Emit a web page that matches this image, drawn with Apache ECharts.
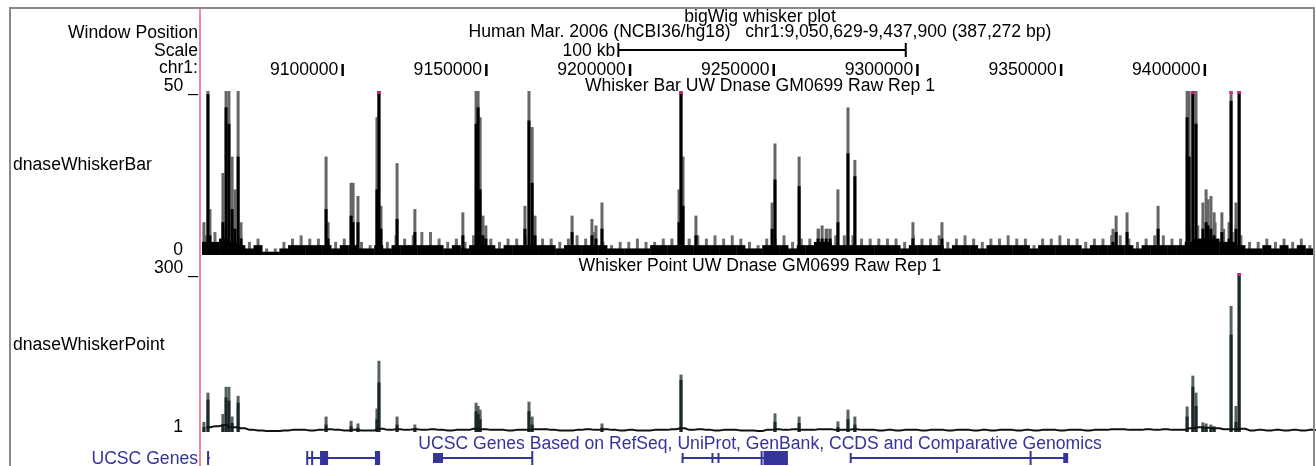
<!DOCTYPE html>
<html><head><meta charset="utf-8">
<script src="https://cdn.jsdelivr.net/npm/echarts@6/dist/echarts.min.js"></script>
<style>html,body{margin:0;padding:0;background:#fff}#c{width:1316px;height:466px}</style>
</head><body><div id="c"></div>
<script>
// ---------- data ----------
const X_MIN = 9050629, X_MAX = 9437900;
const RULER_TICKS = [9100000, 9150000, 9200000, 9250000, 9300000, 9350000, 9400000];
const SCALE_BAR = [9195500, 9295500];

// background bins (3 kb bins starting at X_MIN)
const BG_START = 9050629, BG_STEP = 3000;
const topBgMax = [6,7,8,7,6, 4,5,2,2,4, 5,6,5,5,6, 4,5,6,4,3, 6,4,6,5,6, 7,7,5,4,5, 4,6,6,5,4, 5,5,6,6,5, 5,4,5,6,5, 7,4,3,4,4, 5,4,4,5,5, 6,5,6,5,6, 5,6,5,4,3, 5,5,6,4,5, 5,8,8,6,6, 6,5,5,5,5, 5,4,6,5,5, 6,4,5,6,5, 4,5,5,6,5, 5,3,5,5,6, 5,5,4,5,5, 6,6,5,4,5, 6,6,5,5,8, 9,10,10,8,7, 6,4,4,5,4, 5,4,5,3,4];
const topBgMean = [4,4,5,4,3, 2,3,1,1,2, 3,3,3,3,3, 2,3,3,2,2, 3,2,3,3,3, 3,3,3,2,3, 2,3,3,3,2, 3,3,3,3,3, 3,2,3,3,3, 3,3,2,2,2, 2,2,3,3,3, 3,3,3,3,3, 3,3,3,2,2, 3,3,3,2,3, 3,4,4,3,3, 3,3,3,3,3, 3,2,3,3,3, 3,2,3,3,3, 2,3,3,3,3, 3,2,3,3,3, 3,3,2,3,3, 3,3,3,2,3, 3,3,3,3,4, 5,5,5,4,4, 3,2,2,3,2, 3,2,3,2,2];
const botBg = [10,12,14,10,8, 5,4,3,3,4, 5,5,4,5,6, 5,4,5,4,4, 7,5,6,5,6, 5,6,5,4,5, 5,7,6,5,5, 4,5,5,6,6, 5,4,4,5,6, 5,6,5,4,5, 4,4,5,5,6, 8,5,6,5,4, 5,5,4,4,3, 5,6,5,6,5, 5,6,6,5,5, 6,5,5,4,5, 4,5,5,4,5, 5,4,5,5,4, 5,4,5,5,4, 5,4,5,5,4, 5,5,4,5,5, 6,6,5,5,6, 5,6,5,5,8, 10,9,8,6,6, 7,4,5,4,5, 4,5,4,5,4];

// peaks, top track (Whisker Bar): position, max, mean
const topPeakPos = [9051300,9052700,9053400,9057900,9059000,9060000,9061100,9062100,9063200,9064200,9093800,9094500,9102500,9103200,9104900,9111500,9112200,9112900,9118500,9124700,9141400,9146000,9146700,9147400,9148400,9149400,9163000,9164400,9165500,9166500,9179400,9186300,9187700,9189800,9216600,9217300,9218000,9222500,9249000,9250000,9258400,9265000,9266400,9267800,9269200,9271900,9275400,9277800,9298000,9308100,9367600,9368700,9372500,9383300,9393400,9394100,9395400,9396500,9398900,9400000,9400700,9401700,9402800,9405500,9408000,9408700,9410400,9411500];
const topPeakMax = [10,50,14,25,50,50,30,20,50,10,30,10,22,22,18,42,60,15,28,14,13,50,50,42,12,9,15,50,39,12,12,11,9,16,20,60,30,12,16,34,30,8,9,8,8,20,45,29,10,10,8,12,13,15,50,50,60,50,16,20,17,18,13,13,10,60,16,60];
const topPeakMean = [4,49,6,10,45,40,14,8,30,5,14,5,12,10,10,20,60,8,11,7,6,40,45,20,6,5,8,41,22,6,7,6,5,8,10,60,15,6,8,23,21,5,5,5,5,10,31,24,5,5,4,7,7,8,42,30,60,40,8,10,9,8,6,7,5,47,8,60];

// peaks, bottom track (Whisker Point)
const botPeakPos = [9051300,9052700,9057900,9059000,9060000,9061100,9063200,9093800,9102500,9104900,9111500,9112200,9118500,9124700,9146000,9146700,9147400,9164400,9165500,9189800,9217300,9250000,9258400,9271900,9275400,9277800,9393400,9395400,9396500,9398900,9400000,9401700,9402800,9408700,9410400,9411500];
const botPeakMax = [20,75,35,86,86,30,69,30,22,17,45,135,30,15,56,50,43,58,30,17,109,36,30,21,43,30,49,107,75,19,17,15,12,238,50,310];
const botPeakMean = [10,62,15,66,60,18,56,15,12,9,25,94,15,8,40,35,25,40,15,9,99,20,18,10,25,15,30,86,50,10,9,8,7,184,20,300];

// UCSC genes: gene spans and exons [start, end, tall(1)/short(0)]
const geneSpans = [[9052500,9053300],[9087000,9112600],[9131000,9165500],[9217600,9254500],[9276100,9352000]];
const geneExons = [[9052400,9052900,1],[9086900,9087400,1],[9088600,9089100,1],[9091700,9094500,1],[9110800,9112600,1],[9131000,9134500,0],[9165200,9165600,1],[9217500,9217900,0],[9227900,9228300,0],[9230000,9230400,0],[9245000,9245400,1],[9246000,9246400,1],[9246500,9254500,1],[9276000,9276400,0],[9338600,9339000,1],[9350300,9352000,0]];

// ---------- chart ----------
const FONT = "'Liberation Sans', Arial, sans-serif";
const FS = 17.6;
const NAVY = '#34349a';
const TOP_Y_MAX = 50, BOT_Y_MAX = 300;

const bgCenters = topBgMax.map((_, i) => BG_START + i * BG_STEP + BG_STEP / 2);
const pair = (xs, ys) => xs.map((x, i) => [x, ys[i]]);

function barItem(w, color, yBase) {
  return function (params, api) {
    const p0 = api.coord([api.value(0), yBase]);
    const p1 = api.coord([api.value(0), api.value(1)]);
    return { type: 'rect', shape: { x: p0[0] - w / 2, y: p1[1], width: w, height: p0[1] - p1[1] }, style: { fill: color } };
  };
}
function barSeries(name, xi, yi, data, w, color, yBase) {
  return { name, type: 'custom', xAxisIndex: xi, yAxisIndex: yi, clip: true, silent: true,
    data, encode: { x: 0, y: 1 }, renderItem: barItem(w, color, yBase) };
}

const chart = echarts.init(document.getElementById('c'), null, { renderer: 'canvas' });
const GL = 202, GW = 1113;
const grid = [
  { left: GL, width: GW, top: 91, height: 164, containLabel: false, outerBoundsMode: 'none' },
  { left: GL, width: GW, top: 273, height: 159, containLabel: false, outerBoundsMode: 'none' },
  { left: GL, width: GW, top: 449, height: 18, containLabel: false, outerBoundsMode: 'none' }
];
const hiddenX = (gi) => ({ type: 'value', gridIndex: gi, min: X_MIN, max: X_MAX, show: false });
const rich = { n: { fontSize: FS, fontFamily: FONT, color: '#000' }, g: { width: 15, fontSize: FS } };

const option = {
  backgroundColor: '#fff',
  animation: false,
  grid,
  xAxis: [
    { type: 'value', gridIndex: 0, min: X_MIN, max: X_MAX, position: 'top', offset: 15,
      axisLine: { show: false }, splitLine: { show: false }, axisTick: { show: false },
      axisLabel: { customValues: RULER_TICKS, align: 'right', margin: -3,
        fontSize: FS, fontFamily: FONT, color: '#000',
        rich: { n: { fontSize: FS, fontFamily: FONT, color: '#000', padding: [0, 3, 0, 0] },
                t: { width: 2.5, height: 12, backgroundColor: '#000', fontSize: 4 } },
        formatter: v => '{n|' + v + '}{t| }' } },
    hiddenX(1),
    hiddenX(2)
  ],
  yAxis: [
    { type: 'value', gridIndex: 0, min: 0, max: TOP_Y_MAX, interval: TOP_Y_MAX,
      axisLine: { show: false }, axisTick: { show: false }, splitLine: { show: false },
      axisLabel: { margin: 4, padding: [0, 0, 10, 0], fontSize: FS, fontFamily: FONT, color: '#000', rich,
        formatter: v => v === TOP_Y_MAX ? '{n|' + v + '} {n|_}' : '{n|' + v + '}{g| }' } },
    { type: 'value', gridIndex: 1, min: 1, max: BOT_Y_MAX,
      axisLine: { show: false }, axisTick: { show: false }, splitLine: { show: false },
      axisLabel: { customValues: [1, BOT_Y_MAX], margin: 4, padding: [0, 0, 10, 0], fontSize: FS, fontFamily: FONT, color: '#000', rich,
        formatter: v => v === BOT_Y_MAX ? '{n|' + v + '} {n|_}' : '{n|' + v + '}{g| }' } },
    { type: 'value', gridIndex: 2, min: 0, max: 1, show: false }
  ],
  series: [
    // top track
    barSeries('topBgMax', 0, 0, pair(bgCenters, topBgMax), 3, '#6e6e6e', 0),
    barSeries('topPeakMax', 0, 0, pair(topPeakPos, topPeakMax), 3, '#666', 0),
    barSeries('topBgMean', 0, 0, pair(bgCenters, topBgMean), 9, '#000', 0),
    barSeries('topPeakMean', 0, 0, pair(topPeakPos, topPeakMean), 3, '#000', 0),
    { name: 'topClip', type: 'scatter', xAxisIndex: 0, yAxisIndex: 0, silent: true, clip: false,
      symbol: 'rect', symbolSize: [4, 3], symbolOffset: [0, 1.5], itemStyle: { color: '#e8288c' },
      data: topPeakPos.filter((_, i) => topPeakMax[i] > TOP_Y_MAX).map(x => [x, TOP_Y_MAX]) },
    // bottom track
    barSeries('botPeakMax', 1, 1, pair(botPeakPos, botPeakMax), 3, '#56625f', 1),
    barSeries('botPeakMean', 1, 1, pair(botPeakPos, botPeakMean), 3, '#1b2828', 1),
    { name: 'botBg', type: 'line', xAxisIndex: 1, yAxisIndex: 1, silent: true, symbol: 'none', step: 'middle',
      lineStyle: { color: '#111', width: 2 }, data: pair(bgCenters, botBg) },
    { name: 'botClip', type: 'scatter', xAxisIndex: 1, yAxisIndex: 1, silent: true, clip: false,
      symbol: 'rect', symbolSize: [4, 3], symbolOffset: [0, 1.5], itemStyle: { color: '#e8288c' },
      data: botPeakPos.filter((_, i) => botPeakMax[i] > BOT_Y_MAX).map(x => [x, BOT_Y_MAX]) },
    // genes
    { name: 'geneLines', type: 'custom', xAxisIndex: 2, yAxisIndex: 2, silent: true, data: geneSpans, encode: { x: [0, 1] },
      renderItem: (params, api) => {
        const a = api.coord([api.value(0), 0.5]), b = api.coord([api.value(1), 0.5]);
        return { type: 'line', shape: { x1: a[0], y1: a[1], x2: b[0], y2: b[1] }, style: { stroke: NAVY, lineWidth: 2 } };
      } },
    { name: 'geneExons', type: 'custom', xAxisIndex: 2, yAxisIndex: 2, silent: true, data: geneExons, encode: { x: [0, 1] },
      renderItem: (params, api) => {
        const a = api.coord([api.value(0), 0.5]), b = api.coord([api.value(1), 0.5]);
        const h = api.value(2) === 1 ? 14 : 10;
        const w = Math.max(2, b[0] - a[0]);
        return { type: 'rect', shape: { x: a[0], y: a[1] - h / 2, width: w, height: h }, style: { fill: NAVY } };
      } }
  ]
};
chart.setOption(option);

function txt(text, x, y, align, color) {
  return { type: 'text', silent: true, z: 100, style: { text, x, y, fill: color || '#000', font: FS + 'px ' + FONT,
    align: align, textAlign: align, verticalAlign: 'middle', textVerticalAlign: 'middle' } };
}
const sb0 = chart.convertToPixel({ xAxisIndex: 0 }, SCALE_BAR[0]);
const sb1 = chart.convertToPixel({ xAxisIndex: 0 }, SCALE_BAR[1]);
const ln = (x1, y1, x2, y2, stroke, w) => ({ type: 'line', silent: true, z: 100, shape: { x1, y1, x2, y2 }, style: { stroke, lineWidth: w } });

chart.setOption({
  graphic: [
    { type: 'rect', silent: true, z: 90, shape: { x: 10, y: 8, width: 1304, height: 470 }, style: { fill: 'none', stroke: '#8a8a8a', lineWidth: 2 } },
    ln(200, 9, 200, 466, '#f28a9e', 2),
    txt('bigWig whisker plot', 760, 17, 'center'),
    txt('Human Mar. 2006 (NCBI36/hg18)   chr1:9,050,629-9,437,900 (387,272 bp)', 760, 32, 'center'),
    txt('Window Position', 198, 33, 'right'),
    txt('Scale', 198, 51, 'right'),
    txt('chr1:', 198, 68, 'right'),
    txt('100 kb', sb0 - 3, 51, 'right'),
    ln(sb0, 50, sb1, 50, '#000', 2),
    ln(sb0, 43, sb0, 57, '#000', 2),
    ln(sb1, 43, sb1, 57, '#000', 2),
    txt('Whisker Bar UW Dnase GM0699 Raw Rep 1', 760, 86, 'center'),
    txt('dnaseWhiskerBar', 13, 165, 'left'),
    txt('Whisker Point UW Dnase GM0699 Raw Rep 1', 760, 266, 'center'),
    txt('dnaseWhiskerPoint', 13, 345, 'left'),
    txt('UCSC Genes Based on RefSeq, UniProt, GenBank, CCDS and Comparative Genomics', 760, 444, 'center', NAVY),
    txt('UCSC Genes', 198, 459, 'right', NAVY)
  ]
});
</script></body></html>
